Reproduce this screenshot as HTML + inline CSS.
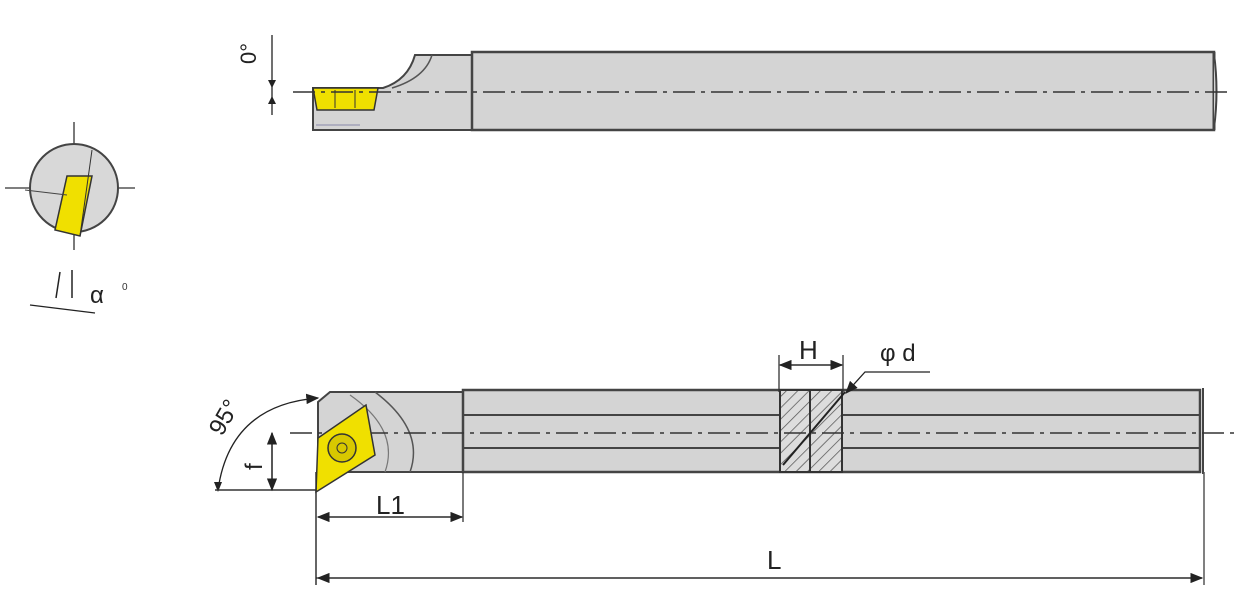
<!DOCTYPE html>
<html><head><style>body{margin:0;background:#fff}svg{display:block}</style></head><body>
<svg width="1256" height="613" viewBox="0 0 1256 613" xmlns="http://www.w3.org/2000/svg" font-family="Liberation Sans, sans-serif">
<defs>
<marker id="a" markerWidth="10" markerHeight="8" refX="9" refY="4" orient="auto"><path d="M0,0L10,4L0,8z" fill="#222"/></marker>
<pattern id="h" width="8" height="8" patternUnits="userSpaceOnUse" patternTransform="rotate(45)"><rect width="8" height="8" fill="#ddd"/><line x1="0" y1="0" x2="0" y2="8" stroke="#555" stroke-width="1.5"/></pattern>
</defs>
<!-- top view -->
<path d="M313,88 L383,88 Q408,80 415,55 L472,55 L472,130 L313,130 Z" fill="#d4d4d4" stroke="#444" stroke-width="2"/>
<path d="M392,88 Q425,78 432,55" fill="none" stroke="#555" stroke-width="1.5"/>
<rect x="472" y="52" width="742" height="78" fill="#d4d4d4" stroke="#444" stroke-width="2.5"/>
<line x1="1214" y1="52" x2="1214" y2="130" stroke="#444" stroke-width="3"/>
<path d="M1214,54 Q1219,91 1214,128" fill="#d4d4d4" stroke="#444" stroke-width="2"/>
<path d="M313,88 L378,88 L374,110 L317,110 Z" fill="#f0e000" stroke="#333" stroke-width="1.5"/>
<line x1="335" y1="90" x2="335" y2="108" stroke="#333"/><line x1="355" y1="90" x2="355" y2="108" stroke="#333"/>
<line x1="316" y1="125" x2="360" y2="125" stroke="#88a" stroke-width="1"/>
<line x1="293" y1="92" x2="1228" y2="92" stroke="#333" stroke-width="1.5" stroke-dasharray="22,6,4,6"/>
<line x1="272" y1="35" x2="272" y2="115" stroke="#222" stroke-width="1.3"/>
<path d="M268,80 L276,80 L272,88z M268,104 L276,104 L272,96z" fill="#222"/>
<text x="0" y="0" font-size="22" transform="translate(256,64) rotate(-90)" fill="#222">0°</text>
<!-- side circle -->
<line x1="5" y1="188" x2="135" y2="188" stroke="#333" stroke-width="1.3"/>
<line x1="74" y1="122" x2="74" y2="250" stroke="#333" stroke-width="1.3"/>
<circle cx="74" cy="188" r="44" fill="#d8d8d8" stroke="#444" stroke-width="2"/>
<path d="M67,176 L92,176 L80,236 L55,230 Z" fill="#f0e000" stroke="#333" stroke-width="1.5"/>
<line x1="92" y1="150" x2="80" y2="236" stroke="#333"/>
<line x1="25" y1="190" x2="67" y2="195" stroke="#444"/>
<line x1="60" y1="272" x2="56" y2="298" stroke="#222" stroke-width="1.5"/><line x1="72" y1="270" x2="72" y2="298" stroke="#222" stroke-width="1.5"/>
<line x1="30" y1="305" x2="95" y2="313" stroke="#222" stroke-width="1.3"/>
<text x="90" y="303" font-size="24" fill="#222">α</text><text x="122" y="290" font-size="10" fill="#333">0</text>
<!-- bottom view -->
<path d="M330,392 L463,392 L463,472 L318,472 L318,402 Z" fill="#d4d4d4" stroke="#444" stroke-width="2"/>
<path d="M375,392 Q425,430 410,472" fill="none" stroke="#555" stroke-width="1.5"/>
<path d="M350,395 Q400,430 385,472" fill="none" stroke="#777" stroke-width="1.2"/>
<rect x="463" y="390" width="737" height="82" fill="#d4d4d4" stroke="#444" stroke-width="2.5"/>
<line x1="463" y1="415" x2="1200" y2="415" stroke="#444" stroke-width="2"/>
<line x1="463" y1="448" x2="1200" y2="448" stroke="#444" stroke-width="2"/>
<line x1="1203" y1="388" x2="1203" y2="474" stroke="#444" stroke-width="2"/>
<rect x="780" y="390" width="62" height="82" fill="url(#h)" stroke="#333" stroke-width="2"/>
<line x1="810" y1="390" x2="810" y2="472" stroke="#333" stroke-width="2"/>
<line x1="845" y1="392" x2="783" y2="465" stroke="#222" stroke-width="2"/>
<line x1="290" y1="433" x2="1240" y2="433" stroke="#333" stroke-width="1.5" stroke-dasharray="22,6,4,6"/>
<path d="M366,405 L375,455 L316,492 L318,438 Z" fill="#f0e000" stroke="#333" stroke-width="1.5"/>
<circle cx="342" cy="448" r="14" fill="#d8c800" stroke="#333" stroke-width="1.5"/>
<circle cx="342" cy="448" r="5" fill="none" stroke="#333"/>
<!-- dims -->
<path d="M218,490 Q230,405 318,398" fill="none" stroke="#222" stroke-width="1.3" marker-end="url(#a)"/>
<path d="M214,482 L222,482 L218,492z" fill="#222"/>
<text font-size="24" fill="#222" transform="translate(222,437) rotate(-60)">95°</text>
<line x1="215" y1="490" x2="316" y2="490" stroke="#333" stroke-width="1.5"/>
<line x1="272" y1="433" x2="272" y2="490" stroke="#222" stroke-width="1.3" marker-end="url(#a)"/>
<line x1="272" y1="490" x2="272" y2="433" stroke="#222" stroke-width="1.3" marker-end="url(#a)"/>
<text font-size="24" fill="#222" transform="translate(262,470) rotate(-90)">f</text>
<line x1="316" y1="472" x2="316" y2="585" stroke="#333" stroke-width="1.5"/>
<line x1="463" y1="472" x2="463" y2="522" stroke="#333" stroke-width="1.3"/>
<line x1="318" y1="517" x2="462" y2="517" stroke="#222" stroke-width="1.3" marker-end="url(#a)"/>
<line x1="462" y1="517" x2="318" y2="517" stroke="#222" stroke-width="1.3" marker-end="url(#a)"/>
<text x="376" y="514" font-size="26" fill="#222">L1</text>
<line x1="1204" y1="472" x2="1204" y2="585" stroke="#555" stroke-width="1.5"/>
<line x1="316" y1="578" x2="1202" y2="578" stroke="#222" stroke-width="1.3" marker-end="url(#a)"/>
<line x1="1202" y1="578" x2="318" y2="578" stroke="#222" stroke-width="1.3" marker-end="url(#a)"/>
<text x="767" y="569" font-size="26" fill="#222">L</text>
<line x1="779" y1="355" x2="779" y2="392" stroke="#333" stroke-width="1.3"/>
<line x1="843" y1="355" x2="843" y2="392" stroke="#333" stroke-width="1.3"/>
<line x1="780" y1="365" x2="842" y2="365" stroke="#222" stroke-width="1.3" marker-end="url(#a)"/>
<line x1="842" y1="365" x2="780" y2="365" stroke="#222" stroke-width="1.3" marker-end="url(#a)"/>
<text x="799" y="359" font-size="26" fill="#222">H</text>
<text x="880" y="361" font-size="24" fill="#222">φ d</text>
<path d="M930,372 L865,372 L846,393" fill="none" stroke="#222" stroke-width="1.3" marker-end="url(#a)"/>
</svg>
</body></html>
